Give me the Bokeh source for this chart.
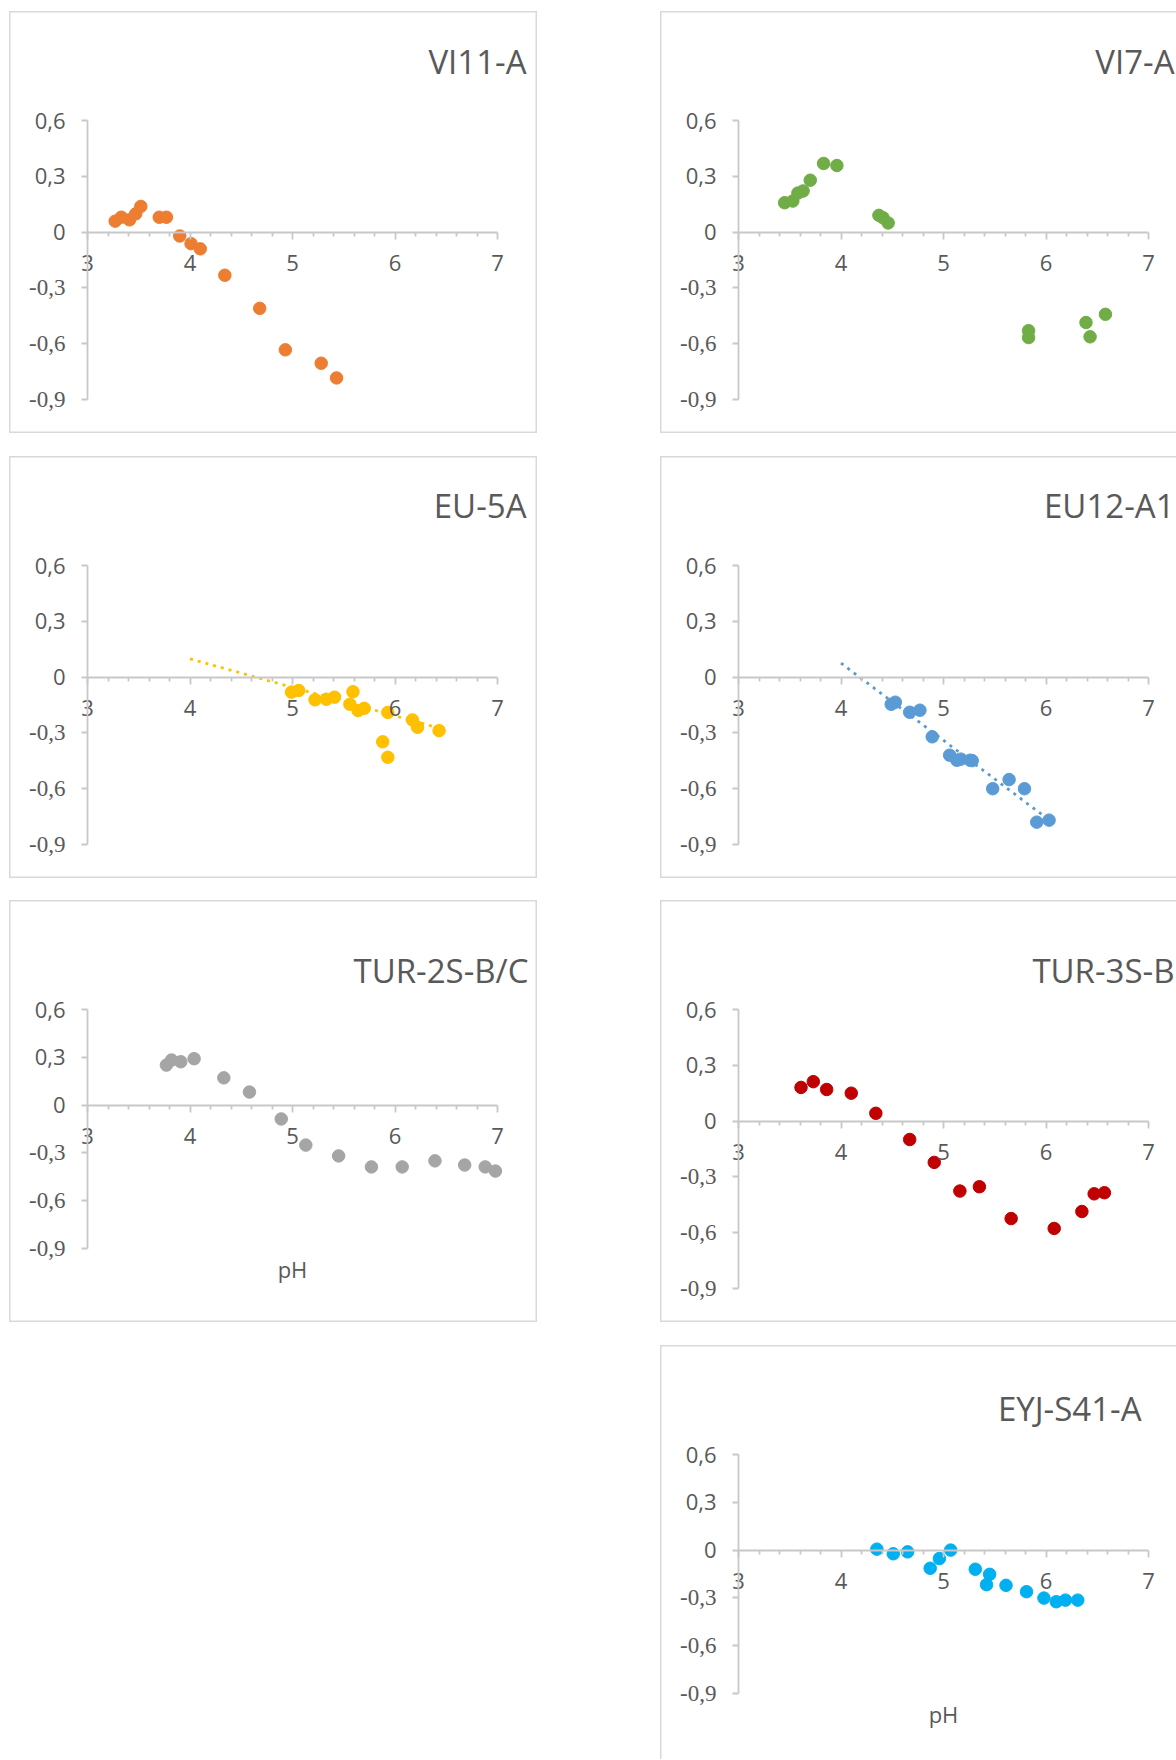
from bokeh.plotting import figure
from bokeh.models import Range1d, FixedTicker, Label, Spacer
from bokeh.layouts import column, row
from bokeh.embed import file_html
from bokeh.resources import INLINE

# ---------------- data ----------------
x_ticks = [3, 4, 5, 6, 7]
x_minor_ticks = [3.2, 3.4, 3.6, 3.8, 4.2, 4.4, 4.6, 4.8, 5.2, 5.4, 5.6, 5.8,
                 6.2, 6.4, 6.6, 6.8]
y_ticks = [-0.9, -0.6, -0.3, 0, 0.3, 0.6]
y_pos_labels = {0: "0", 0.3: "0,3", 0.6: "0,6"}
y_neg_ticks = [-0.3, -0.6, -0.9]
y_neg_labels = ["-0,3", "-0,6", "-0,9"]
x_title = "pH"

vi11_ph = [3.27, 3.33, 3.41, 3.47, 3.52, 3.70, 3.77, 3.90, 4.01, 4.10, 4.34, 4.68, 4.93, 5.28, 5.43]
vi11_val = [0.059, 0.080, 0.066, 0.098, 0.138, 0.080, 0.080, -0.021, -0.062, -0.090, -0.232, -0.410, -0.633, -0.705, -0.784]

vi7_ph = [3.45, 3.53, 3.58, 3.63, 3.70, 3.83, 3.96, 4.37, 4.41, 4.46, 5.83, 5.83, 6.39, 6.43, 6.58]
vi7_val = [0.158, 0.167, 0.210, 0.221, 0.279, 0.369, 0.358, 0.090, 0.077, 0.049, -0.530, -0.567, -0.486, -0.563, -0.442]

eu5a_ph = [4.99, 5.06, 5.22, 5.33, 5.41, 5.59, 5.56, 5.64, 5.70, 5.93, 5.88, 5.93, 6.17, 6.22, 6.43]
eu5a_val = [-0.081, -0.072, -0.122, -0.119, -0.108, -0.079, -0.146, -0.180, -0.168, -0.190, -0.348, -0.431, -0.230, -0.270, -0.288]
eu5a_trend_ph = [4.0, 6.43]
eu5a_trend_val = [0.098, -0.274]

eu12_ph = [4.49, 4.53, 4.67, 4.77, 4.89, 5.06, 5.13, 5.17, 5.26, 5.28, 5.48, 5.64, 5.79, 5.91, 6.03]
eu12_val = [-0.146, -0.135, -0.189, -0.178, -0.321, -0.420, -0.447, -0.441, -0.447, -0.449, -0.600, -0.551, -0.600, -0.780, -0.769]
eu12_trend_ph = [4.0, 6.03]
eu12_trend_val = [0.075, -0.768]

tur2_ph = [3.77, 3.82, 3.91, 4.04, 4.33, 4.58, 4.89, 5.13, 5.45, 5.77, 6.07, 6.39, 6.68, 6.88, 6.98]
tur2_val = [0.251, 0.283, 0.272, 0.291, 0.171, 0.082, -0.087, -0.251, -0.319, -0.388, -0.388, -0.350, -0.376, -0.388, -0.414]

tur3_ph = [3.61, 3.73, 3.86, 4.10, 4.34, 4.67, 4.91, 5.16, 5.35, 5.66, 6.08, 6.35, 6.47, 6.57]
tur3_val = [0.181, 0.212, 0.170, 0.150, 0.042, -0.099, -0.222, -0.376, -0.353, -0.524, -0.577, -0.486, -0.391, -0.385]

eyj_ph = [4.35, 4.51, 4.65, 4.87, 4.96, 5.07, 5.31, 5.45, 5.42, 5.61, 5.81, 5.98, 6.10, 6.19, 6.31]
eyj_val = [0.006, -0.023, -0.011, -0.114, -0.053, 0.000, -0.120, -0.152, -0.217, -0.221, -0.261, -0.301, -0.324, -0.314, -0.314]

# ---------------- styling ----------------
TXT = "#595959"
AXC = "#c8c8c8"
BORDER = "#d9d9d9"
FONT = "Open Sans"
FRAME_LEFT = 78      # px from panel left to the y axis (pH = 3)
FRAME_W = 410        # px from pH 3 to pH 7
FRAME_TOP = 109      # px from panel top to value 0.6


def panel(title, xs, ys, color, width, height, frame_h, title_right, title_cy,
          sides, trend=None, ph_gap=None):
    px_x = FRAME_W / 4.0
    px_y = frame_h / 1.5
    x_range = Range1d(3 - FRAME_LEFT / px_x, 3 + (width - FRAME_LEFT) / px_x)
    y_range = Range1d(-0.9 - (height - FRAME_TOP - frame_h) / px_y, 0.6 + FRAME_TOP / px_y)
    p = figure(width=width, height=height, x_range=x_range, y_range=y_range,
               output_backend="svg", toolbar_location=None,
               min_border_left=0, min_border_right=0, min_border_top=0, min_border_bottom=0)
    p.border_fill_color = None
    p.background_fill_color = None
    p.outline_line_color = None
    p.xgrid.visible = False
    p.ygrid.visible = False

    shadows = []
    if "l" in sides:
        shadows.append(f"inset 1.5px 0 0 {BORDER}")
    if "t" in sides:
        shadows.append(f"inset 0 1.5px 0 {BORDER}")
    if "r" in sides:
        shadows.append(f"inset -1.5px 0 0 {BORDER}")
    if "b" in sides:
        shadows.append(f"inset 0 -1.5px 0 {BORDER}")
    p.styles = {"box-shadow": ", ".join(shadows)}

    xa = p.xaxis[0]
    xa.fixed_location = 0
    xa.bounds = (3, 7)
    xa.ticker = FixedTicker(ticks=x_ticks, minor_ticks=x_minor_ticks)
    xa.axis_line_color = AXC
    xa.axis_line_width = 1.8
    xa.major_tick_line_color = AXC
    xa.major_tick_line_width = 1.8
    xa.minor_tick_line_color = AXC
    xa.minor_tick_line_width = 1.8
    xa.major_tick_in = 0
    xa.major_tick_out = 7
    xa.minor_tick_in = 0
    xa.minor_tick_out = 4
    xa.major_label_standoff = 16
    xa.major_label_text_font = FONT
    xa.major_label_text_font_size = "22px"
    xa.major_label_text_color = TXT

    ya = p.yaxis[0]
    ya.fixed_location = 3
    ya.bounds = (-0.9, 0.6)
    ya.ticker = FixedTicker(ticks=y_ticks)
    overrides = {v: "" for v in y_neg_ticks}
    overrides.update(y_pos_labels)
    ya.major_label_overrides = overrides
    ya.axis_line_color = AXC
    ya.axis_line_width = 1.8
    ya.major_tick_line_color = AXC
    ya.major_tick_line_width = 1.8
    ya.major_tick_in = 0
    ya.major_tick_out = 6
    ya.minor_tick_out = 0
    ya.minor_tick_in = 0
    ya.major_label_standoff = 16
    ya.major_label_text_font = FONT
    ya.major_label_text_font_size = "22px"
    ya.major_label_text_color = TXT

    for v, t in zip(y_neg_ticks, y_neg_labels):
        p.add_layout(Label(x=3, y=v, text=t, x_offset=-22, text_align="right",
                           text_baseline="middle", text_font="Liberation Serif",
                           text_font_size="23px", text_color=TXT))

    if ph_gap is not None:
        p.add_layout(Label(x=5, y=-0.9, text=x_title, y_offset=-ph_gap, text_align="center",
                           text_baseline="middle", text_font=FONT, text_font_size="22px",
                           text_color=TXT))

    p.scatter(xs, ys, size=12.5, fill_color=color, line_color=color)
    if trend is not None:
        p.line(trend[0], trend[1], line_color=color, line_width=2.8, line_dash="3 5")

    p.add_layout(Label(x=7, y=0.6, text=title, x_offset=title_right - (FRAME_LEFT + FRAME_W),
                       y_offset=FRAME_TOP - title_cy, text_align="right", text_baseline="middle",
                       text_font=FONT, text_font_size="33px", text_color=TXT))
    return p


LW, RW, H = 528, 516, 422
HA, HB = 279, 239

p1 = panel("VI11-A", vi11_ph, vi11_val, "#ED7D31", LW, H, HA, 517, 50, "ltrb")
p2 = panel("VI7-A", vi7_ph, vi7_val, "#70AD47", RW, H, HA, 514, 50, "ltb")
p3 = panel("EU-5A", eu5a_ph, eu5a_val, "#FFC000", LW, H, HA, 517, 49, "ltrb",
           trend=(eu5a_trend_ph, eu5a_trend_val))
p4 = panel("EU12-A1", eu12_ph, eu12_val, "#5B9BD5", RW, H, HA, 514, 49, "ltb",
           trend=(eu12_trend_ph, eu12_trend_val))
p5 = panel("TUR-2S-B/C", tur2_ph, tur2_val, "#A5A5A5", LW, H, HB, 519, 70, "ltrb", ph_gap=20)
p6 = panel("TUR-3S-B", tur3_ph, tur3_val, "#C00000", RW, H, HA, 514, 70, "ltb")
p7 = panel("EYJ-S41-A", eyj_ph, eyj_val, "#00B0F0", RW, 414, HB, 481, 63, "lt", ph_gap=20)

layout = column(
    Spacer(width=1176, height=11),
    row(Spacer(width=9, height=H), p1, Spacer(width=123, height=H), p2),
    Spacer(width=1176, height=23),
    row(Spacer(width=9, height=H), p3, Spacer(width=123, height=H), p4),
    Spacer(width=1176, height=22),
    row(Spacer(width=9, height=H), p5, Spacer(width=123, height=H), p6),
    Spacer(width=1176, height=23),
    row(Spacer(width=660, height=414), p7),
)

open("out.html", "w").write(file_html(layout, INLINE))
